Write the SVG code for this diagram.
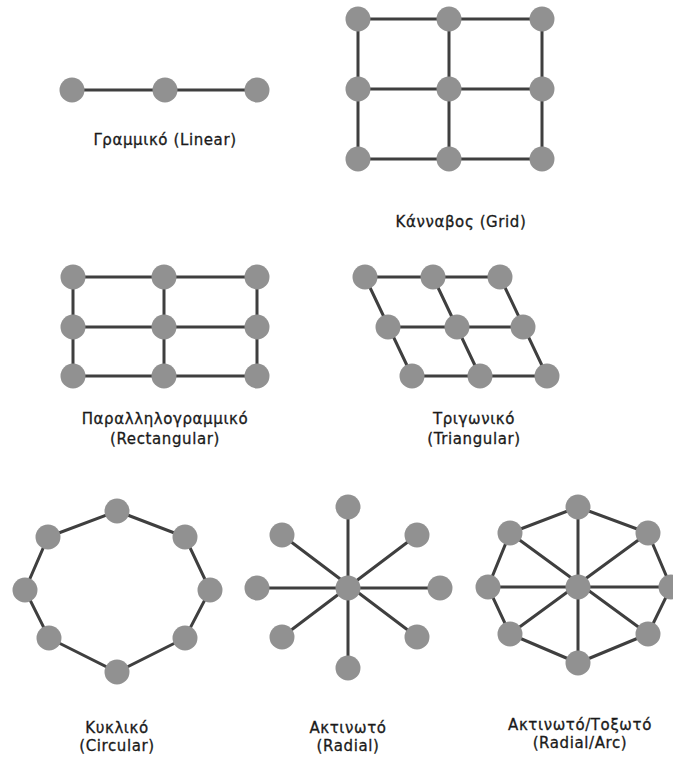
<svg xmlns="http://www.w3.org/2000/svg" width="673" height="758" viewBox="0 0 673 758">
<style>
.n{fill:#919191}
.e{stroke:#3f3f3f;stroke-width:3;fill:none;stroke-linecap:round}
.t{font-family:"DejaVu Sans",sans-serif;font-size:15px;fill:#1a1a1a;stroke:#1a1a1a;stroke-width:0.3px;text-anchor:middle;letter-spacing:0.6px}
</style>
<rect width="673" height="758" fill="#fff"/>
<g id="connectors">
<path class="e" d="M72 90H257"/>
<path class="e" d="M358 19H542M358 89H542M358 159H542M358 19V159M449 19V159M542 19V159"/>
<path class="e" d="M73 277H257M73 327H257M73 376H257M73 277V376M164 277V376M257 277V376"/>
<path class="e" d="M365 277H500M388 327H523M412 376H547M365 277L412 376M433 277L480 376M500 277L547 376"/>
<path class="e" d="M117 511L185 537L210 590L185 638L117 672L49 638L25 590L48 537Z"/>
<path class="e" d="M348 507V668M257 588H440M282 535L417 637M417 535L282 637"/>
<path class="e" d="M578 507V663M488 587H671M510 533L648 634M648 533L510 634M578 507L648 533L671 587L648 634L578 663L510 634L488 587L510 533Z"/>
</g>
<g id="linear">
<circle class="n" cx="72" cy="90" r="12.5"/><circle class="n" cx="165" cy="90" r="12.5"/><circle class="n" cx="257" cy="90" r="12.5"/>
<text class="t" x="165" y="145">Γραμμικό (Linear)</text>
</g>
<g id="grid">
<circle class="n" cx="358" cy="19" r="12.5"/><circle class="n" cx="449" cy="19" r="12.5"/><circle class="n" cx="542" cy="19" r="12.5"/>
<circle class="n" cx="358" cy="89" r="12.5"/><circle class="n" cx="449" cy="89" r="12.5"/><circle class="n" cx="542" cy="89" r="12.5"/>
<circle class="n" cx="358" cy="159" r="12.5"/><circle class="n" cx="449" cy="159" r="12.5"/><circle class="n" cx="542" cy="159" r="12.5"/>
<text class="t" x="461" y="227">Κάνναβος (Grid)</text>
</g>
<g id="rectangular">
<circle class="n" cx="73" cy="277" r="12.5"/><circle class="n" cx="164" cy="277" r="12.5"/><circle class="n" cx="257" cy="277" r="12.5"/>
<circle class="n" cx="73" cy="327" r="12.5"/><circle class="n" cx="164" cy="327" r="12.5"/><circle class="n" cx="257" cy="327" r="12.5"/>
<circle class="n" cx="73" cy="376" r="12.5"/><circle class="n" cx="164" cy="376" r="12.5"/><circle class="n" cx="257" cy="376" r="12.5"/>
<text class="t" x="165" y="424">Παραλληλογραμμικό</text>
<text class="t" x="165" y="444">(Rectangular)</text>
</g>
<g id="triangular">
<circle class="n" cx="365" cy="277" r="12.5"/><circle class="n" cx="433" cy="277" r="12.5"/><circle class="n" cx="500" cy="277" r="12.5"/>
<circle class="n" cx="388" cy="327" r="12.5"/><circle class="n" cx="457" cy="327" r="12.5"/><circle class="n" cx="523" cy="327" r="12.5"/>
<circle class="n" cx="412" cy="376" r="12.5"/><circle class="n" cx="480" cy="376" r="12.5"/><circle class="n" cx="547" cy="376" r="12.5"/>
<text class="t" x="474" y="424">Τριγωνικό</text>
<text class="t" x="474" y="444">(Triangular)</text>
</g>
<g id="circular">
<circle class="n" cx="117" cy="511" r="12.5"/><circle class="n" cx="185" cy="537" r="12.5"/><circle class="n" cx="210" cy="590" r="12.5"/><circle class="n" cx="185" cy="638" r="12.5"/>
<circle class="n" cx="117" cy="672" r="12.5"/><circle class="n" cx="49" cy="638" r="12.5"/><circle class="n" cx="25" cy="590" r="12.5"/><circle class="n" cx="48" cy="537" r="12.5"/>
<text class="t" x="117" y="733">Κυκλικό</text>
<text class="t" x="117" y="751">(Circular)</text>
</g>
<g id="radial">
<circle class="n" cx="348" cy="588" r="12.5"/>
<circle class="n" cx="348" cy="507" r="12.5"/><circle class="n" cx="417" cy="535" r="12.5"/><circle class="n" cx="440" cy="588" r="12.5"/><circle class="n" cx="417" cy="637" r="12.5"/>
<circle class="n" cx="348" cy="668" r="12.5"/><circle class="n" cx="282" cy="637" r="12.5"/><circle class="n" cx="257" cy="588" r="12.5"/><circle class="n" cx="282" cy="535" r="12.5"/>
<text class="t" x="348" y="733">Ακτινωτό</text>
<text class="t" x="348" y="751">(Radial)</text>
</g>
<g id="radial-arc">
<circle class="n" cx="578" cy="587" r="12.5"/>
<circle class="n" cx="578" cy="507" r="12.5"/><circle class="n" cx="648" cy="533" r="12.5"/><circle class="n" cx="671" cy="587" r="12.5"/><circle class="n" cx="648" cy="634" r="12.5"/>
<circle class="n" cx="578" cy="663" r="12.5"/><circle class="n" cx="510" cy="634" r="12.5"/><circle class="n" cx="488" cy="587" r="12.5"/><circle class="n" cx="510" cy="533" r="12.5"/>
<text class="t" x="580" y="730">Ακτινωτό/Τοξωτό</text>
<text class="t" x="580" y="748">(Radial/Arc)</text>
</g>
</svg>
